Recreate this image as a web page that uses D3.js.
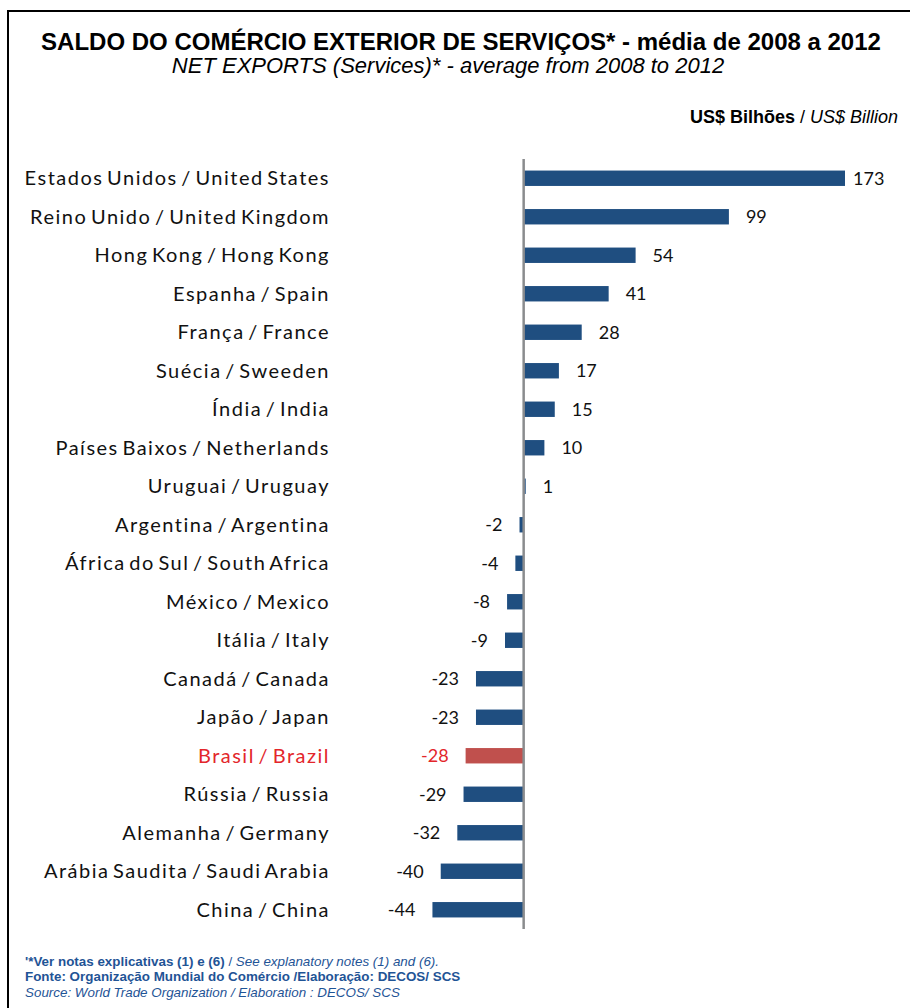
<!DOCTYPE html>
<html lang="pt">
<head>
<meta charset="UTF-8">
<title>Saldo do Comércio Exterior de Serviços</title>
<script src="https://cdn.jsdelivr.net/npm/d3@7"></script>
<style>
  body { margin: 0; background: #fff; }
  svg { display: block; }
</style>
</head>
<body>
<div id="chart"></div>
<script>
// categories (top to bottom) and values, US$ billion
var countries = [
  "Estados Unidos / United States",
  "Reino Unido / United Kingdom",
  "Hong Kong / Hong Kong",
  "Espanha / Spain",
  "França / France",
  "Suécia / Sweeden",
  "Índia / India",
  "Países Baixos / Netherlands",
  "Uruguai / Uruguay",
  "Argentina / Argentina",
  "África do Sul / South Africa",
  "México / Mexico",
  "Itália / Italy",
  "Canadá / Canada",
  "Japão / Japan",
  "Brasil / Brazil",
  "Rússia / Russia",
  "Alemanha / Germany",
  "Arábia Saudita / Saudi Arabia",
  "China / China"
];
var netExports = [173, 99, 54, 41, 28, 17, 15, 10, 1, -2, -4, -8, -9, -23, -23, -28, -29, -32, -40, -44];
var highlight = "Brasil / Brazil";

var width = 910, height = 1008;

var svg = d3.select("#chart").append("svg")
    .attr("width", width)
    .attr("height", height);

// frame
svg.append("path")
    .attr("d", "M8,1008 V11 H910")
    .attr("fill", "none")
    .attr("stroke", "#000")
    .attr("stroke-width", 2);

// titles
svg.append("text")
    .attr("x", 461).attr("y", 50)
    .attr("text-anchor", "middle")
    .attr("font-family", "Liberation Sans, Arial, sans-serif")
    .attr("font-weight", "bold")
    .attr("font-size", 24)
    .text("SALDO DO COMÉRCIO EXTERIOR DE SERVIÇOS* - média de 2008 a 2012");

svg.append("text")
    .attr("x", 448).attr("y", 73)
    .attr("text-anchor", "middle")
    .attr("font-family", "Liberation Sans, Arial, sans-serif")
    .attr("font-style", "italic")
    .attr("font-size", 22)
    .text("NET EXPORTS (Services)* - average from 2008 to 2012");

var unit = svg.append("text")
    .attr("x", 898).attr("y", 123)
    .attr("text-anchor", "end")
    .attr("font-family", "Liberation Sans, Arial, sans-serif")
    .attr("font-size", 18);
unit.append("tspan").attr("font-weight", "bold").text("US$ Bilhões");
unit.append("tspan").text(" / ");
unit.append("tspan").attr("font-style", "italic").text("US$ Billion");

// scales (axis max is fixed, longer bars are cut at the edge)
var x = d3.scaleLinear()
    .domain([-50, 155])
    .range([420, 845])
    .clamp(true);

var y = d3.scaleBand()
    .domain(countries)
    .range([159, 929])
    .paddingInner(0.6)
    .paddingOuter(0.3);

var rows = countries.map(function (c, i) { return { name: c, value: netExports[i] }; });

var labelFont = "Lato, 'Open Sans', sans-serif";

// bars
svg.append("g")
    .selectAll("rect")
    .data(rows)
    .enter().append("rect")
    .attr("x", function (d) { return Math.min(x(0), x(d.value)); })
    .attr("y", function (d) { return y(d.name); })
    .attr("width", function (d) { return Math.abs(x(d.value) - x(0)); })
    .attr("height", y.bandwidth())
    .attr("fill", function (d) { return d.name == highlight ? "#c0504d" : "#1f4e80"; });

// zero axis
svg.append("line")
    .attr("x1", x(0)).attr("x2", x(0))
    .attr("y1", 159).attr("y2", 929)
    .attr("stroke", "#8a8c8e")
    .attr("stroke-width", 2.5);

// category labels
svg.append("g")
    .selectAll("text")
    .data(rows)
    .enter().append("text")
    .attr("x", 330)
    .attr("y", function (d) { return y(d.name) + y.bandwidth() / 2; })
    .attr("dy", "0.35em")
    .attr("text-anchor", "end")
    .attr("font-family", labelFont)
    .attr("font-size", 20)
    .attr("letter-spacing", 1.5)
    .attr("word-spacing", -3)
    .attr("fill", function (d) { return d.name == highlight ? "#e3262b" : "#111"; })
    .text(function (d) { return d.name; });

// value labels
svg.append("g")
    .selectAll("text")
    .data(rows)
    .enter().append("text")
    .attr("x", function (d) {
        if (d.value < 0) return x(d.value) - 17;
        return x(d.value) + (x(d.value) >= x.range()[1] ? 8 : 17);
    })
    .attr("y", function (d) { return y(d.name) + y.bandwidth() / 2; })
    .attr("dy", "0.35em")
    .attr("text-anchor", function (d) { return d.value < 0 ? "end" : "start"; })
    .attr("font-family", labelFont)
    .attr("font-size", 18)
    .attr("fill", function (d) { return d.name == highlight ? "#e3262b" : "#111"; })
    .text(function (d) { return d.value; });

// notes
var notes = svg.append("g")
    .attr("font-family", "Liberation Sans, Arial, sans-serif")
    .attr("font-size", 13.4)
    .attr("fill", "#1f5496");

var n1 = notes.append("text").attr("x", 25).attr("y", 966);
n1.append("tspan").attr("font-weight", "bold").text("'*Ver notas explicativas (1) e (6)");
n1.append("tspan").text(" / ");
n1.append("tspan").attr("font-style", "italic").text("See explanatory notes (1) and (6).");

notes.append("text").attr("x", 25).attr("y", 981)
    .attr("font-weight", "bold")
    .text("Fonte: Organização Mundial do Comércio /Elaboração: DECOS/ SCS");

notes.append("text").attr("x", 25).attr("y", 997)
    .attr("font-style", "italic")
    .text("Source: World Trade Organization / Elaboration : DECOS/ SCS");
</script>
</body>
</html>
